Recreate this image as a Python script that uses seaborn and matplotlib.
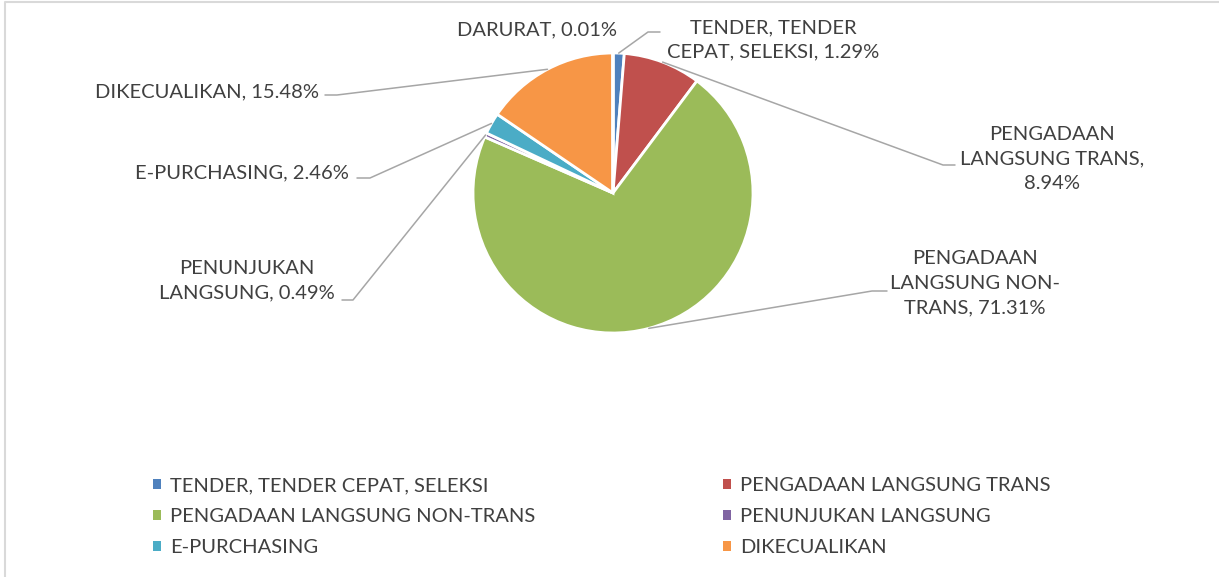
import matplotlib
matplotlib.use("Agg")
import matplotlib.pyplot as plt
import seaborn as sns
from matplotlib.lines import Line2D
from matplotlib.patches import Patch
import numpy as np

# data
categories = ["TENDER, TENDER CEPAT, SELEKSI", "PENGADAAN LANGSUNG TRANS",
              "PENGADAAN LANGSUNG NON-TRANS", "PENUNJUKAN LANGSUNG",
              "E-PURCHASING", "DIKECUALIKAN", "DARURAT"]
values = [1.29, 8.94, 71.31, 0.49, 2.46, 15.48, 0.01]
colors = ["#4F81BD", "#C0504D", "#9BBB59", "#8064A2", "#4BACC6", "#F79646", "#2C4D75"]
label_fmt = ["TENDER, TENDER\nCEPAT, SELEKSI, {:.2f}%",
             "PENGADAAN\nLANGSUNG TRANS,\n{:.2f}%",
             "PENGADAAN\nLANGSUNG NON-\nTRANS, {:.2f}%",
             "PENUNJUKAN\nLANGSUNG, {:.2f}%",
             "E-PURCHASING, {:.2f}%",
             "DIKECUALIKAN, {:.2f}%",
             "DARURAT, {:.2f}%"]
legend_order = [0, 2, 4, 1, 3, 5]   # row-major 2-col layout, DARURAT not listed

# label layout in pixels: text centre, elbow point, line end (None = no leader)
label_pos = [(773, 40), (1052, 159), (975, 283), (247, 281), (242, 173), (207, 92), (537, 30)]
leader = [((648, 32), (660, 32)), ((943, 165), (955, 165)), ((872, 291), (887, 291)),
          ((353, 300), (342, 300)), ((370, 178), (357, 178)), ((337, 95), (325, 95)), None]

W, H = 1219, 577
TXT = "#404040"

sns.set_theme(style="white")
plt.rcParams["font.family"] = ["Lato", "DejaVu Sans"]

fig = plt.figure(figsize=(W / 100, H / 100), dpi=100)
fig.patch.set_facecolor("white")


def fpx(x, y):
    return x / W, 1 - y / H


cx, cy, r = 613, 193, 140
half = 150
ax = fig.add_axes([(cx - half) / W, 1 - (cy + half) / H, 2 * half / W, 2 * half / H])
wedges, _ = ax.pie(values, colors=colors, startangle=90, counterclock=False,
                   wedgeprops=dict(edgecolor="white", linewidth=2))
lim = half / r
ax.set_xlim(-lim, lim)
ax.set_ylim(-lim, lim)
ax.set_aspect("equal")
ax.axis("off")

# data labels with leader lines
for i, w in enumerate(wedges):
    tx, ty = fpx(*label_pos[i])
    fig.text(tx, ty, label_fmt[i].format(values[i]), ha="center", va="center",
             fontsize=14.5, color=TXT, linespacing=1.55)
    if leader[i] is None:
        continue
    ang = np.deg2rad((w.theta1 + w.theta2) / 2)
    sx, sy = fig.transFigure.inverted().transform(
        ax.transData.transform((np.cos(ang), np.sin(ang))))
    (ex, ey), (lx, ly) = fpx(*leader[i][0]), fpx(*leader[i][1])
    fig.add_artist(Line2D([sx, ex, lx], [sy, ey, ly], color="#A6A6A6", lw=1.1,
                          transform=fig.transFigure))

# legend
handles = [Patch(facecolor=colors[i], edgecolor="none") for i in legend_order]
labels = [categories[i] for i in legend_order]
fig.legend(handles, labels, ncol=2, loc="upper left", bbox_to_anchor=fpx(153, 477),
           frameon=False, fontsize=14.5, handlelength=0.4, handleheight=0.4,
           handletextpad=0.45, labelspacing=0.7, columnspacing=9.3,
           borderpad=0, borderaxespad=0, labelcolor=TXT)

# chart area border (top and left edges visible)
fig.add_artist(Line2D([4.5 / W, 4.5 / W, 1], [0, 1 - 1.5 / H, 1 - 1.5 / H],
                      color="#D9D9D9", lw=1.5, transform=fig.transFigure))

fig.savefig("out.png", dpi=100, facecolor="white")
